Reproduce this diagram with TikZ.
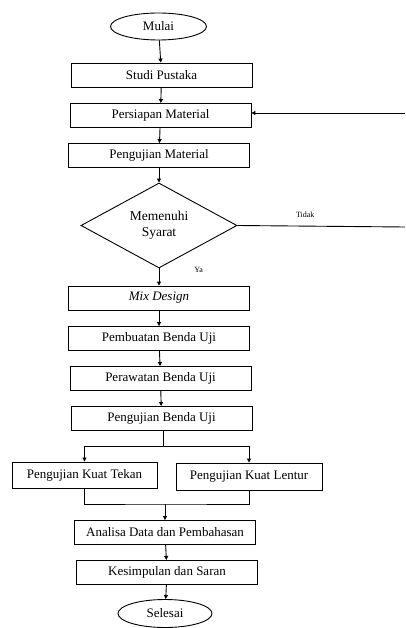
\documentclass[tikz,border=0pt]{standalone}
\usepackage{fontspec}
\setmainfont{Liberation Serif}
\usetikzlibrary{shapes.geometric, arrows.meta, positioning}

\begin{document}
\begin{tikzpicture}[
  x=1pt, y=1pt,
  proc/.style={rectangle, draw, line width=0.9pt, minimum width=181pt, minimum height=24pt, font=\fontsize{13}{15}\selectfont, inner sep=2pt, align=center},
  term/.style={ellipse, draw, line width=0.9pt, minimum width=96pt, minimum height=27pt, font=\fontsize{13}{15}\selectfont, inner sep=1pt},
  dec/.style={diamond, draw, line width=0.9pt, minimum width=156pt, minimum height=85pt, font=\fontsize{13.5}{16}\selectfont, align=center, aspect=1.8, inner sep=1pt},
  arr/.style={-{Triangle[length=4pt, width=4pt]}, line width=0.9pt},
  lin/.style={line width=0.9pt},
  lbl/.style={font=\fontsize{8}{9}\selectfont, inner sep=1pt},
]
\useasboundingbox (0,0) rectangle (405,-628);

\node[term]  (mulai)      at (158.5,-26.5) {Mulai};
\node[proc]  (studi)      at (161.5,-75)   {Studi Pustaka};
\node[proc]  (persiapan)  at (160.5,-115.5) {Persiapan Material};
\node[proc]  (ujimat)     at (159,-155.5)  {Pengujian Material};
\node[dec]   (syarat)     at (159,-225.5)  {Memenuhi\\Syarat};
\node[proc]  (mix)        at (159,-298)    {\itshape Mix Design};
\node[proc]  (pembuatan)  at (159,-338.5)  {Pembuatan Benda Uji};
\node[proc]  (perawatan)  at (160.5,-378.5) {Perawatan Benda Uji};
\node[proc]  (ujibenda)   at (161.5,-418.5) {Pengujian Benda Uji};
\node[proc, minimum width=145pt, minimum height=26pt] (tekan)  at (84.5,-475)  {Pengujian Kuat Tekan};
\node[proc, minimum width=146pt, minimum height=27pt] (lentur) at (249,-476.5) {Pengujian Kuat Lentur};
\node[proc]  (analisa)    at (165,-532.5)  {Analisa Data dan Pembahasan};
\node[proc]  (kesimpulan) at (167,-572.5)  {Kesimpulan dan Saran};
\node[term, minimum width=94pt, minimum height=28pt] (selesai) at (165,-613.5) {Selesai};

\coordinate (tidakEnd)  at (405,-227);
\coordinate (kembali)   at (405,-113);
\coordinate (cabang)    at (163,-446);
\coordinate (gabung)    at (165,-504);

\draw[arr] (mulai)     -- (studi);
\draw[arr] (studi)     -- (persiapan);
\draw[arr] (persiapan) -- (ujimat);
\draw[arr] (ujimat)    -- (syarat);
\draw[arr] (syarat)    -- node[lbl, right, xshift=34pt, yshift=7pt]{Ya} (mix);
\draw[lin] (syarat.east) -- node[lbl, above, xshift=-16pt, yshift=7pt]{Tidak} (tidakEnd);
\draw[arr] (kembali) -- (persiapan.east |- kembali);
\draw[arr] (mix)       -- (pembuatan);
\draw[arr] (pembuatan) -- (perawatan);
\draw[arr] (perawatan) -- (ujibenda);
\draw[lin] (ujibenda.south -| cabang) -- (cabang);
\draw[arr] (cabang) -| (tekan.north);
\draw[arr] (cabang) -| (lentur.north);
\draw[lin] (tekan.south) |- (gabung) -| (lentur.south);
\draw[arr] (gabung) -- (analisa);
\draw[arr] (analisa)   -- (kesimpulan);
\draw[arr] (kesimpulan) -- (selesai);
\end{tikzpicture}
\end{document}
